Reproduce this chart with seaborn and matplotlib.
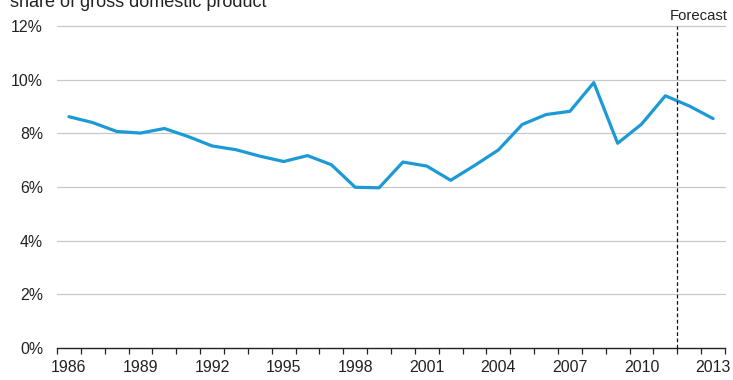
import matplotlib
matplotlib.use("Agg")
import matplotlib.pyplot as plt
from matplotlib.ticker import FixedLocator, FuncFormatter
import seaborn as sns
import pandas as pd

years = list(range(1986, 2014))
share = [8.62, 8.40, 8.07, 8.01, 8.18, 7.88, 7.53, 7.39, 7.15, 6.95,
         7.17, 6.83, 5.99, 5.97, 6.93, 6.78, 6.25, 6.80, 7.38, 8.33,
         8.70, 8.82, 9.89, 7.63, 8.34, 9.40, 9.02, 8.55]
year_labels = [1986, 1989, 1992, 1995, 1998, 2001, 2004, 2007, 2010, 2013]
y_ticks = [0, 2, 4, 6, 8, 10, 12]
forecast_start = 2011.5

df = pd.DataFrame({"year": years, "share": share})

sns.set_theme(style="white")
plt.rcParams["font.family"] = ["Liberation Sans", "DejaVu Sans"]

W, H = 733, 380
fig = plt.figure(figsize=(W / 100, H / 100), dpi=100)
ax = fig.add_axes([57 / W, 1 - 348 / H, (725 - 57) / W, (348 - 26) / H])

for v in y_ticks[1:]:
    ax.axhline(v, color="#c8c8c8", lw=0.9, zorder=0, clip_on=False)

sns.lineplot(data=df, x="year", y="share", ax=ax, color="#1b9ad6",
             lw=2.3, zorder=3)

ax.plot([forecast_start, forecast_start], [0, 12], color="#111111", lw=0.9,
        ls=(0, (3, 2)), zorder=4)

ax.set_xlim(1985.5, 2013.5)
ax.set_ylim(0, 12)

for side in ["top", "right", "left"]:
    ax.spines[side].set_visible(False)
ax.spines["bottom"].set_color("#222222")
ax.spines["bottom"].set_linewidth(1.0)

ax.xaxis.set_major_locator(FixedLocator(year_labels))
ax.xaxis.set_minor_locator(FixedLocator([y + 0.5 for y in range(1985, 2014)]))
ax.tick_params(axis="x", which="major", length=0, pad=8.5, labelsize=11.4,
               labelcolor="#222222")
ax.tick_params(axis="x", which="minor", length=4, width=0.9, color="#222222",
               direction="out")
ax.xaxis.set_ticks_position("bottom")

ax.set_yticks(y_ticks)
ax.yaxis.set_major_formatter(FuncFormatter(lambda v, p: f"{int(v)}%"))
ax.tick_params(axis="y", length=0, pad=10, labelsize=11.4, labelcolor="#222222")

ax.set_xlabel("")
ax.set_ylabel("")
ax.grid(False)

fig.text(10 / W, 1 - 7 / H, "share of gross domestic product",
         fontsize=13, color="#222222", ha="left", va="baseline")
fig.text(728 / W, 1 - 20.5 / H, "Forecast", fontsize=10.7,
         color="#222222", ha="right", va="baseline")

fig.savefig("out.png", dpi=100)
